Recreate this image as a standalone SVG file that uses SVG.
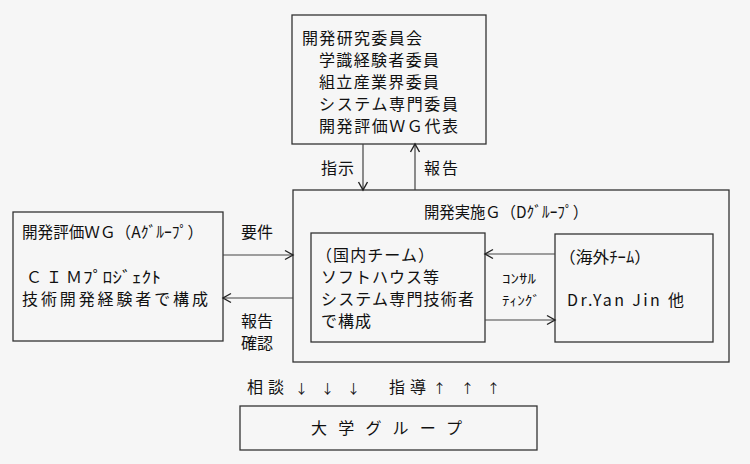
<svg xmlns="http://www.w3.org/2000/svg" width="750" height="464" viewBox="0 0 750 464">
<defs>
<style>
.box{fill:none;stroke:#333;stroke-width:1.3}
.ln{fill:none;stroke:#444;stroke-width:1.2}
text{font-family:"Noto Sans CJK JP","Noto Sans CJK SC",sans-serif;font-size:16px;fill:#111}
.sm{font-size:13px}
</style>
<marker id="ah" markerWidth="12" markerHeight="12" refX="10" refY="6" orient="auto" markerUnits="userSpaceOnUse">
<path d="M2,1.5 L10,6 L2,10.5" fill="none" stroke="#222" stroke-width="1.4"/>
</marker>
</defs>
<rect width="750" height="464" fill="#f6f6f6"/>
<g id="iinkai">
<rect class="box" x="292" y="15" width="194" height="129"/>
<text x="302" y="44" textLength="120" lengthAdjust="spacing">開発研究委員会</text>
<text x="319" y="66" textLength="120" lengthAdjust="spacing">学識経験者委員</text>
<text x="319" y="88" textLength="120" lengthAdjust="spacing">組立産業界委員</text>
<text x="319" y="110" textLength="139" lengthAdjust="spacing">システム専門委員</text>
<text x="319" y="132" textLength="139" lengthAdjust="spacing">開発評価ＷＧ代表</text>
</g>
<g id="groupA">
<rect class="box" x="13" y="212" width="210" height="129"/>
<text x="22" y="238" textLength="181" lengthAdjust="spacingAndGlyphs">開発評価ＷＧ（Aｸﾞﾙｰﾌﾟ）</text>
<text x="26" y="283" textLength="56" lengthAdjust="spacing">ＣＩＭ</text>
<text x="83" y="283" textLength="78" lengthAdjust="spacingAndGlyphs">ﾌﾟﾛｼﾞｪｸﾄ</text>
<text x="22" y="305" textLength="186" lengthAdjust="spacing">技術開発経験者で構成</text>
</g>
<g id="groupD">
<rect class="box" x="293" y="190" width="436" height="172"/>
<text x="424" y="218" textLength="164" lengthAdjust="spacingAndGlyphs">開発実施Ｇ（Dｸﾞﾙｰﾌﾟ）</text>
</g>
<g id="kokunai">
<rect class="box" x="311" y="233" width="174" height="109"/>
<text x="316" y="261" textLength="118" lengthAdjust="spacing">（国内チーム）</text>
<text x="321" y="283" textLength="118" lengthAdjust="spacing">ソフトハウス等</text>
<text x="321" y="305" textLength="153" lengthAdjust="spacing">システム専門技術者</text>
<text x="321" y="327" textLength="50" lengthAdjust="spacing">で構成</text>
</g>
<g id="kaigai">
<rect class="box" x="555" y="234" width="158" height="108"/>
<text x="559" y="263" textLength="92" lengthAdjust="spacingAndGlyphs">（海外ﾁｰﾑ）</text>
<text x="567" y="306" textLength="117" lengthAdjust="spacing">Dr.Yan Jin 他</text>
</g>
<g id="daigaku">
<rect class="box" x="240" y="406" width="297" height="44"/>
<text x="311" y="434" textLength="151" lengthAdjust="spacing">大学グループ</text>
</g>
<g id="connectors">
<line class="ln" x1="363" y1="144" x2="363" y2="190" marker-end="url(#ah)"/>
<line class="ln" x1="415" y1="190" x2="415" y2="144" marker-end="url(#ah)"/>
<line class="ln" x1="223" y1="255" x2="293" y2="255" marker-end="url(#ah)"/>
<line class="ln" x1="293" y1="298" x2="223" y2="298" marker-end="url(#ah)"/>
<line class="ln" x1="555" y1="254" x2="485" y2="254" marker-end="url(#ah)"/>
<line class="ln" x1="485" y1="320" x2="555" y2="320" marker-end="url(#ah)"/>
</g>
<g id="labels">
<text x="321" y="174" textLength="33" lengthAdjust="spacing">指示</text>
<text x="424" y="174" textLength="34" lengthAdjust="spacing">報告</text>
<text x="241" y="238" textLength="32" lengthAdjust="spacing">要件</text>
<text x="241" y="327" textLength="32" lengthAdjust="spacing">報告</text>
<text x="241" y="349" textLength="32" lengthAdjust="spacing">確認</text>
<text class="sm" x="502" y="283" textLength="34" lengthAdjust="spacingAndGlyphs">ｺﾝｻﾙ</text>
<text class="sm" x="502" y="305" textLength="38" lengthAdjust="spacingAndGlyphs">ﾃｨﾝｸﾞ</text>
<text x="247" y="393" textLength="37" lengthAdjust="spacing">相談</text>
<text class="sm" x="295" y="393">↓</text>
<text class="sm" x="321" y="393">↓</text>
<text class="sm" x="347" y="393">↓</text>
<text x="389" y="393" textLength="37" lengthAdjust="spacing">指導</text>
<text class="sm" x="433" y="393">↑</text>
<text class="sm" x="461" y="393">↑</text>
<text class="sm" x="487" y="393">↑</text>
</g>
</svg>
